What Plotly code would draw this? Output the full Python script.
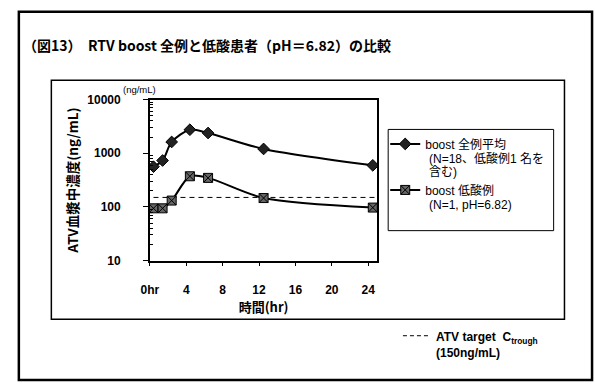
import plotly.graph_objects as go

# Sampling times (hr) and plasma ATV concentrations (ng/mL)
times = [0.4, 1.4, 2.4, 4.4, 6.4, 12.5, 24.5]
boost_all_mean = [561, 731, 1620, 2740, 2380, 1200, 594]
boost_low_acid = [94, 94, 131, 372, 347, 146, 97]
target_trough = 150
target_x = [0.4, 25]

x_tick_vals = [0, 4, 8, 12, 16, 20, 24]
x_tick_text = ["0hr", "4", "8", "12", "16", "20", "24"]
y_tick_vals = [10, 100, 1000, 10000]
y_tick_text = ["10", "100", "1000", "10000"]
# log minor ticks 2..9 within each decade
y_minor_vals = [m * 10 ** e for e in range(1, 4) for m in range(2, 10)]

W, H = 595, 389
FONT = "Liberation Sans, Noto Sans CJK JP, sans-serif"
JP = "Noto Sans CJK JP"


def px(x):
    return x / W


def py(y):
    return 1 - y / H


fig = go.Figure()

fig.add_trace(go.Scatter(
    x=target_x, y=[target_trough] * len(target_x), mode="lines",
    line=dict(color="black", width=1, dash="5px,4px"),
    showlegend=False, hoverinfo="skip",
))

fig.add_trace(go.Scatter(
    x=times, y=boost_all_mean, mode="lines+markers",
    name="boost 全例平均", legendgroup="all",
    line=dict(color="black", width=2, shape="spline", smoothing=0.8),
    marker=dict(symbol="diamond", size=9, color="#222",
                line=dict(color="black", width=1)),
))

fig.add_trace(go.Scatter(
    x=times, y=boost_low_acid, mode="lines+markers",
    name="boost 低酸例", legendgroup="low",
    line=dict(color="black", width=2, shape="spline", smoothing=0.8),
    marker=dict(symbol="square-x", size=9, color="#666",
                line=dict(color="black", width=1)),
))

# second and third lines of the legend entries
legend_extra = [
    ("(N=18、低酸例1 名を", 157),
    ("含む)", 171),
    ("(N=1, pH=6.82)", 205),
]

annotations = [
    dict(text="<b>（図13）</b>",
         xref="paper", yref="paper", x=px(12), y=py(39),
         xanchor="left", yanchor="middle", showarrow=False,
         font=dict(size=14, family=JP)),
    dict(text="<b>RTV boost 全例と低酸患者（pH＝6.82）の比較</b>",
         xref="paper", yref="paper", x=px(78), y=py(39),
         xanchor="left", yanchor="middle", showarrow=False,
         font=dict(size=14, family=JP)),
    dict(text="(ng/mL)", xref="paper", yref="paper", x=px(114), y=py(86),
         xanchor="left", yanchor="middle", showarrow=False,
         font=dict(size=9.5, family=FONT)),
    dict(text="<b>ATV target  C<sub>trough</sub></b><br><b>(150ng/mL)</b>",
         xref="paper", yref="paper", x=px(432), y=py(333),
         xanchor="left", yanchor="top", align="left", showarrow=False,
         font=dict(size=12, family=FONT)),
]
for txt, yy in legend_extra:
    annotations.append(dict(
        text=txt, xref="paper", yref="paper", x=px(424), y=py(yy),
        xanchor="left", yanchor="middle", showarrow=False,
        font=dict(size=12, family=FONT)))

fig.update_layout(
    width=W, height=H, autosize=False,
    margin=dict(l=0, r=0, t=0, b=0),
    paper_bgcolor="white", plot_bgcolor="white",
    font=dict(family=FONT, color="black", size=11),
    xaxis=dict(
        domain=[px(143), px(374)], range=[0, 25],
        tickvals=x_tick_vals, ticktext=x_tick_text,
        ticks="outside", ticklen=4, tickcolor="black", tickwidth=1,
        ticklabelstandoff=13,
        showline=True, linecolor="black", linewidth=1.5, mirror=True,
        showgrid=False, zeroline=False,
        tickfont=dict(size=12, family=FONT, weight="bold"),
        title=dict(text="<b>時間(hr)</b>", font=dict(size=13, family=JP),
                   standoff=0),
    ),
    yaxis=dict(
        domain=[py(263), py(96)], type="log", range=[1, 4],
        tickvals=y_tick_vals, ticktext=y_tick_text,
        ticks="outside", ticklen=5, tickcolor="black", tickwidth=1,
        ticklabelstandoff=20,
        minor=dict(tickvals=y_minor_vals, ticks="inside", ticklen=3,
                   tickcolor="black", tickwidth=1, showgrid=False),
        showline=True, linecolor="black", linewidth=1.5, mirror=True,
        showgrid=False, zeroline=False,
        tickfont=dict(size=12, family=FONT, weight="bold"),
        title=dict(text="<b>ATV血漿中濃度(ng/mL)</b>",
                   font=dict(size=13.5, family=JP), standoff=6),
    ),
    legend=dict(
        x=px(382), y=py(127), xanchor="left", yanchor="top",
        bgcolor="rgba(0,0,0,0)", borderwidth=0,
        font=dict(size=12, family=FONT),
        itemwidth=30, valign="middle",
        traceorder="grouped", tracegroupgap=27,
    ),
    shapes=[
        # outer frame
        dict(type="rect", xref="paper", yref="paper",
             x0=px(10), x1=px(592), y0=py(387), y1=py(5),
             line=dict(color="black", width=2.5)),
        # chart area box
        dict(type="rect", xref="paper", yref="paper",
             x0=px(43), x1=px(564), y0=py(324), y1=py(76),
             line=dict(color="black", width=1.5)),
        # legend box
        dict(type="rect", xref="paper", yref="paper",
             x0=px(385), x1=px(553), y0=py(232), y1=py(127),
             line=dict(color="black", width=1)),
        # target line key
        dict(type="line", xref="paper", yref="paper",
             x0=px(400), x1=px(426), y0=py(341), y1=py(341),
             line=dict(color="black", width=1, dash="4px,3px")),
    ],
    annotations=annotations,
)

fig.write_html("out.html")
